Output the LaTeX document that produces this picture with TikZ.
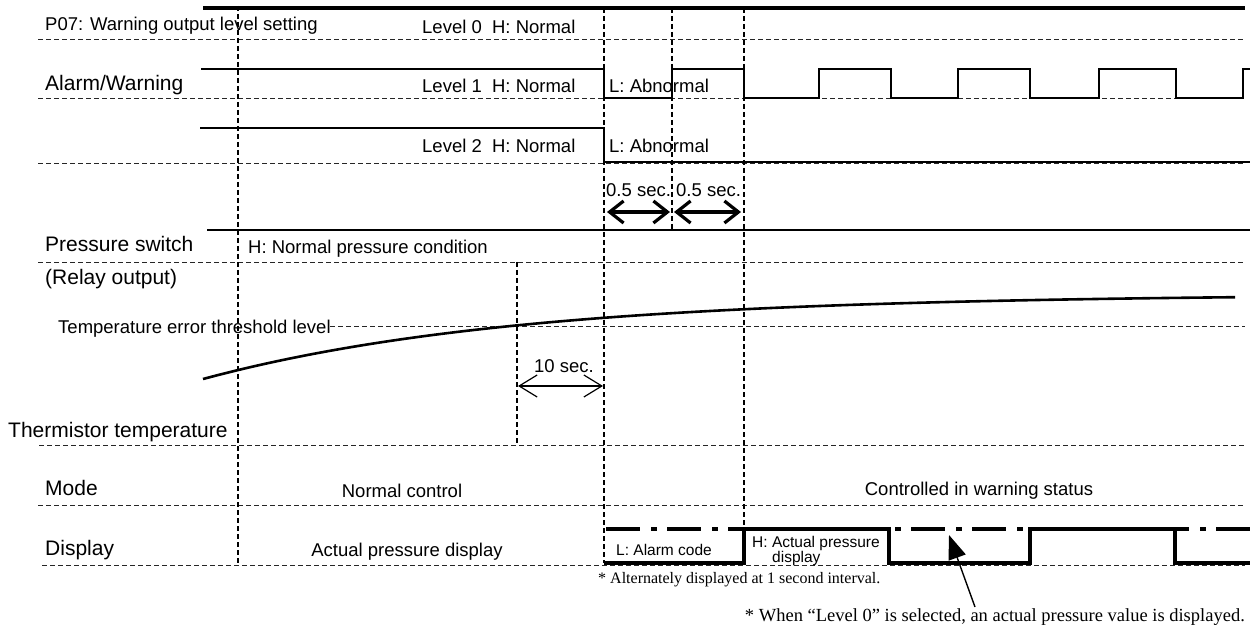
\documentclass[tikz,border=0pt]{standalone}
\usepackage{fontspec}
\setmainfont{Liberation Sans}
\newfontfamily\tms{Liberation Serif}
\usetikzlibrary{arrows.meta}
\begin{document}
\begin{tikzpicture}[x=1pt,y=-1pt,
  hdash/.style={dash pattern=on 5pt off 3pt, line width=0.9pt, black!85},
  vdash/.style={dash pattern=on 5pt off 3pt, line width=2pt},
  sig/.style={line width=2pt},
  sigthick/.style={line width=3.5pt},
  lbl/.style={font=\fontsize{21}{24}\selectfont, inner sep=0pt, anchor=base west},
  txt/.style={font=\fontsize{18.5}{22}\selectfont, inner sep=0pt, anchor=base west},
  small/.style={font=\fontsize{15.5}{17}\selectfont, inner sep=0pt, anchor=base west},
  note/.style={font=\tms\fontsize{16}{18}\selectfont, inner sep=0pt, anchor=base west},
  notebig/.style={font=\tms\fontsize{18.5}{21}\selectfont, inner sep=0pt, anchor=base east},
  halfsec/.style={line width=3.2pt, {Straight Barb[length=14pt,width=22pt]}-{Straight Barb[length=14pt,width=22pt]}},
  tensec/.style={line width=1.2pt, {Straight Barb[length=18pt,width=22pt]}-{Straight Barb[length=18pt,width=22pt]}},
  pointer/.style={line width=1.4pt, -{Triangle[length=24pt,width=18pt]}}
]
\useasboundingbox (0,0) rectangle (1250,628);
\fill[white] (0,0) rectangle (1250,628);

% horizontal dashed guide lines
\foreach \yy/\xa in {39/38, 98/38, 163/38, 262/38, 445/39, 505/38, 565/42}
  \draw[hdash] (\xa,\yy) -- (1245,\yy);
\draw[hdash] (330,326) -- (1245,326);

% vertical dashed time markers
\draw[vdash] (238,6) -- (238,565);
\draw[vdash] (604,8) -- (604,563);
\draw[vdash] (672,8) -- (672,230);
\draw[vdash] (744,8) -- (744,527);
\draw[vdash] (517,262) -- (517,443);

% P07 level 0
\draw[line width=4pt] (203,8) -- (1245,8);
% Level 1
\draw[sig] (201,69) -- (604,69) -- (604,98) -- (672,98) -- (672,69) -- (744,69) -- (744,98)
  -- (819,98) -- (819,69) -- (891,69) -- (891,98) -- (958,98) -- (958,69) -- (1030,69)
  -- (1030,98) -- (1099,98) -- (1099,69) -- (1176,69) -- (1176,98) -- (1243,98) -- (1243,69) -- (1250,69);
% Level 2
\draw[sig] (200,128) -- (604,128) -- (604,162) -- (1250,162);
% Pressure switch
\draw[sig] (207,230) -- (1250,230);
% Thermistor temperature curve
\draw[line width=2.6pt] plot[domain=203:1235, samples=80, smooth] (\x,{294+85*exp(-(\x-203)/315)});
% Display
\draw[sigthick, dash pattern=on 34pt off 11pt on 6pt off 10pt] (606,529) -- (1250,529);
\draw[sigthick] (604,563) -- (744,563) -- (744,529) -- (889,529) -- (889,563) -- (1030,563)
  -- (1030,529) -- (1175,529) -- (1175,563) -- (1250,563);

% texts
\node[txt] (p07) at (45,31) {P07: Warning output level setting};
\node[txt] (l0) at (422,34) {Level 0~~H: Normal};
\node[lbl] (aw) at (45,91) {Alarm/Warning};
\node[txt] (l1) at (422,93) {Level 1~~H: Normal};
\node[txt] (ab1) at (609,93) {L: Abnormal};
\node[txt] (l2) at (422,153) {Level 2~~H: Normal};
\node[txt] (ab2) at (609,153) {L: Abnormal};
\node[txt] (s1) at (606,197) {0.5 sec.};
\node[txt] (s2) at (676,197) {0.5 sec.};
\node[lbl] (ps) at (45,252) {Pressure switch};
\node[txt] (psh) at (248,254) {H: Normal pressure condition};
\node[lbl] (ro) at (45,285) {(Relay output)};
\node[txt] (thr) at (58,334) {Temperature error threshold level};
\node[txt] (ten) at (534,372) {10 sec.};
\node[lbl] (th) at (8,437) {Thermistor temperature};
\node[lbl] (mode) at (45,495) {Mode};
\node[txt, anchor=base] (nc) at (402,497) {Normal control};
\node[txt, anchor=base] (cw) at (979,495) {Controlled in warning status};
\node[lbl] (disp) at (45,555) {Display};
\node[txt, anchor=base] (apd) at (407,556) {Actual pressure display};
\node[small] (ac) at (616,555) {L: Alarm code};
\node[small] (ha) at (752,547) {H: Actual pressure};
\node[small] (hd) at (772,562) {display};
\node[note] (n1) at (598,583) {* Alternately displayed at 1 second interval.};
\node[notebig] (n2) at (1245,621) {* When “Level 0” is selected, an actual pressure value is displayed.};

% dimension arrows
\coordinate (a1) at (607,212);
\coordinate (a2) at (670,212);
\coordinate (a3) at (674,212);
\coordinate (a4) at (741,212);
\draw[halfsec] (a1) -- (a2);
\draw[halfsec] (a3) -- (a4);
\coordinate (t1) at (518,386);
\coordinate (t2) at (603,386);
\draw[tensec] (t1) -- (t2);
\coordinate (pt) at (975,607);
\coordinate (ph) at (949,535);
\draw[pointer] (pt) -- (ph);
\end{tikzpicture}
\end{document}
